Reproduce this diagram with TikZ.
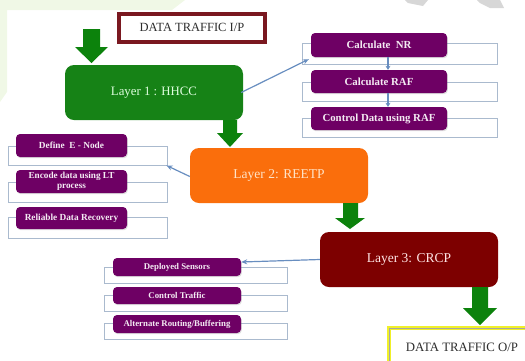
\documentclass[tikz,border=0pt]{standalone}
\usepackage{fontspec}
\setmainfont{Liberation Serif}
\usetikzlibrary{arrows.meta,calc,shadows}

\definecolor{layergreen}{RGB}{22,130,22}
\definecolor{arrowgreen}{RGB}{12,130,12}
\definecolor{layerorange}{RGB}{250,110,12}
\definecolor{layermaroon}{RGB}{125,0,0}
\definecolor{stepviolet}{RGB}{110,0,100}
\definecolor{framegray}{RGB}{170,186,206}
\definecolor{linkblue}{RGB}{104,142,192}
\definecolor{inborder}{RGB}{122,24,32}
\definecolor{outborder}{RGB}{240,240,40}
\definecolor{labelgray}{RGB}{45,45,45}
\definecolor{washgreen}{RGB}{240,248,230}
\definecolor{washgray}{RGB}{215,215,215}

% block arrow: shaft x1..x2, head x3..x4, top y, head start y, tip y
\newcommand\greenarrow[7]{%
  \fill[arrowgreen] (#1,#5) -- (#2,#5) -- (#2,#6) -- (#4,#6)
    -- ({(#3+#4)/2},#7) -- (#3,#6) -- (#1,#6) -- cycle;}

\tikzset{
  layerbox/.style={rectangle, rounded corners=9pt, inner sep=0pt,
    minimum width=178pt, minimum height=55pt},
  stepbox/.style={rectangle, rounded corners=4pt, inner sep=0pt,
    fill=stepviolet, text=white!92!stepviolet, font=\bfseries,
    drop shadow={shadow xshift=0.8pt, shadow yshift=-1.2pt, opacity=0.25}},
  framebox/.style={rectangle, draw=framegray, line width=0.9pt, fill=white,
    inner sep=0pt},
  link/.style={draw=linkblue, line width=1.2pt,
    -{Stealth[length=6pt,width=5pt]}},
  smalllink/.style={draw=linkblue, line width=1.4pt,
    -{Stealth[length=4pt,width=5pt]}},
}

\begin{document}
\begin{tikzpicture}[x=1pt,y=-1pt]
\useasboundingbox (0,0) rectangle (525,360);
\clip (0,0) rectangle (525,360);

% faint wash in the corners
\fill[washgreen] (0,0) -- (185,0) -- (172,10) -- (7,10) -- (7,92) -- (0,102) -- cycle;
\fill[washgray] (405,0) -- (428,0) -- (423,6) -- (408,3) -- cycle;
\fill[washgray] (477,0) -- (500,0) -- (504,8) -- (490,8) -- (480,3) -- cycle;

% input label
\node[rectangle, draw=inborder, line width=4pt, fill=white,
  minimum width=146pt, minimum height=28pt, inner sep=0pt,
  text=labelgray, font=\fontsize{12.5}{14}\selectfont] (in) at (192,27.5) {DATA TRAFFIC I/P};

% layers
\node[layerbox, fill=layergreen, text=green!12!white,
  font=\fontsize{12.8}{14}\selectfont] (l1) at (154,92.5) {Layer 1 : HHCC};
\node[layerbox, fill=layerorange, text=orange!22!white,
  font=\fontsize{13.5}{15}\selectfont] (l2) at (279,175.5) {Layer 2: REETP};
\node[layerbox, fill=layermaroon, text=red!10!white,
  font=\fontsize{13.5}{15}\selectfont] (l3) at (409,259.5) {Layer 3: CRCP};

% output label
\node[rectangle, draw=outborder, line width=4.5pt, fill=white,
  minimum width=140pt, minimum height=36pt, inner sep=0pt] (out) at (459,346) {};
\draw[gray!70, line width=0.5pt] ($(out.north west)+(2.4,2.4)$) rectangle ($(out.south east)+(-2.4,-2.4)$);
\node[text=labelgray, font=\fontsize{12.8}{14}\selectfont] (outtext) at (462,347) {DATA TRAFFIC O/P};

% green flow arrows
\greenarrow{83}{100}{75}{108}{29}{47}{63}
\greenarrow{223}{237}{217}{243}{120}{133}{147}
\greenarrow{343}{358}{335}{365}{203}{218}{229}
\greenarrow{472}{488}{463}{497}{287}{308}{325}

% layer 1 steps
\node[framebox, minimum width=195pt, minimum height=21pt] (fnr)  at (399.5,53.5) {};
\node[framebox, minimum width=195pt, minimum height=19pt] (fraf) at (399.5,91.5) {};
\node[framebox, minimum width=195pt, minimum height=19pt] (fcd)  at (399.5,127.5) {};
\node[stepbox, minimum width=136pt, minimum height=24pt,
  font=\bfseries\fontsize{10.8}{12}\selectfont] (nr) at (379,45) {Calculate\ \ NR};
\node[stepbox, minimum width=136pt, minimum height=23pt,
  font=\bfseries\fontsize{10.8}{12}\selectfont] (raf) at (379,81.5) {Calculate RAF};
\node[stepbox, minimum width=136pt, minimum height=23pt,
  font=\bfseries\fontsize{10.8}{12}\selectfont] (cd) at (379,118.5) {Control Data using RAF};

% layer 2 steps
\node[framebox, minimum width=159pt, minimum height=19pt] (fdef) at (87.5,155.5) {};
\node[framebox, minimum width=159pt, minimum height=20pt] (fenc) at (87.5,192) {};
\node[framebox, minimum width=159pt, minimum height=21pt] (frec) at (87.5,227.5) {};
\node[stepbox, minimum width=111pt, minimum height=23pt,
  font=\bfseries\fontsize{9.3}{10}\selectfont] (def) at (71.5,145.5) {Define\ \ E - Node};
\node[stepbox, minimum width=111pt, minimum height=23pt, align=center,
  font=\bfseries\fontsize{9.2}{9.6}\selectfont] (enc) at (71.5,181.5) {Encode data using LT\\process};
\node[stepbox, minimum width=111pt, minimum height=22pt,
  font=\bfseries\fontsize{9.3}{10}\selectfont] (rec) at (71.5,218) {Reliable Data Recovery};

% layer 3 steps
\node[framebox, minimum width=183pt, minimum height=16pt] (fdep) at (195.5,275) {};
\node[framebox, minimum width=183pt, minimum height=16pt] (fct)  at (195.5,303) {};
\node[framebox, minimum width=183pt, minimum height=16pt] (falt) at (195.5,331) {};
\node[stepbox, minimum width=128pt, minimum height=18pt,
  font=\bfseries\fontsize{8.8}{10}\selectfont] (dep) at (177,267) {Deployed Sensors};
\node[stepbox, minimum width=128pt, minimum height=17pt,
  font=\bfseries\fontsize{8.8}{10}\selectfont] (ct) at (177,295.5) {Control Traffic};
\node[stepbox, minimum width=128pt, minimum height=18pt,
  font=\bfseries\fontsize{8.8}{10}\selectfont] (alt) at (177,324) {Alternate Routing/Buffering};

% connectors from each layer to its steps
\draw[link] ($(l1.east)+(-2,0)$) -- ($(nr.south west)+(-2,2)$);
\draw[smalllink] ($(nr.south)+(9,0)$) -- ($(raf.north)+(9,0)$);
\draw[smalllink] ($(raf.south)+(9,0)$) -- ($(cd.north)+(9,0)$);
\draw[link] ($(l2.west)+(0,1)$) -- ($(fdef.south east)+(-1,0)$);
\draw[link] (l3.west) -- ($(dep.east)+(0,-5)$);
\end{tikzpicture}
\end{document}
